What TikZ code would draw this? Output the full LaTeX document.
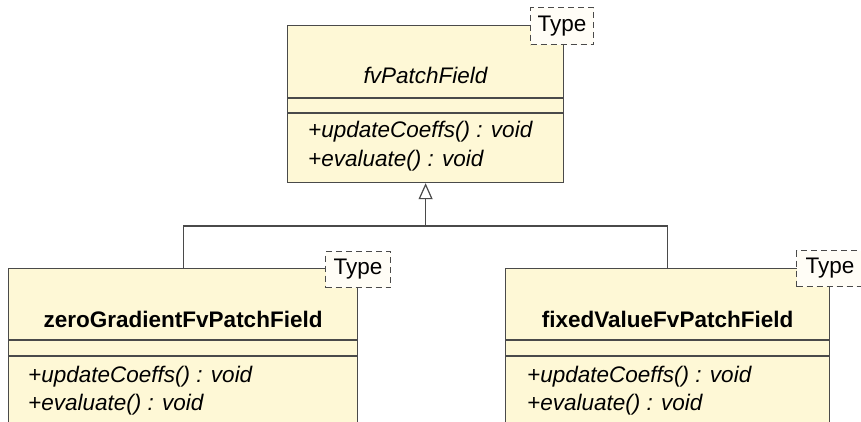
\documentclass[tikz,border=0pt]{standalone}
\usepackage{fontspec}
\setmainfont{Liberation Sans}
\usetikzlibrary{arrows.meta}
\definecolor{classfill}{HTML}{FEF8D6}
\definecolor{edgegray}{HTML}{4A4A4A}
\definecolor{tagfill}{HTML}{FFFDF6}
\tikzset{
  classbox/.style={draw=edgegray, fill=classfill, line width=1.2bp, rectangle, inner sep=0pt, anchor=north west},
  divider/.style={draw=edgegray, line width=1.2bp},
  tagbox/.style={draw=edgegray, fill=tagfill, dashed, dash pattern=on 6bp off 4bp, line width=1.1bp,
                 rectangle, inner sep=0pt, anchor=north west, font=\umlfont},
  member/.style={anchor=base west, inner sep=0pt, font=\umlfont\itshape},
  classname/.style={anchor=base, inner sep=0pt, font=\umlfont},
  link/.style={draw=edgegray, line width=1.2bp},
}
\newcommand{\umlfont}{\fontsize{22.5bp}{26bp}\selectfont}
\begin{document}
\begin{tikzpicture}[x=1bp, y=-1bp]
  \useasboundingbox (0,0) rectangle (861,421);
  \clip (0,0) rectangle (861,421);

  % generic base class
  \node[classbox, minimum width=276bp, minimum height=157bp] (base) at (287,25) {};
  \draw[divider] (base.west |- 0,98) -- (base.east |- 0,98);
  \draw[divider] (base.west |- 0,113) -- (base.east |- 0,113);
  \node[classname, font=\umlfont\itshape] (baseName) at (base.center |- 0,83) {fvPatchField};
  \node[member] (baseM1) at (308,137) {+updateCoeffs() : void};
  \node[member] (baseM2) at (308,166) {+evaluate() : void};
  \node[tagbox, minimum width=63bp, minimum height=37bp] (baseTag) at (530,7) {Type};

  % zero gradient subclass
  \node[classbox, minimum width=349bp, minimum height=180bp] (zeroG) at (8,268) {};
  \draw[divider] (zeroG.west |- 0,340) -- (zeroG.east |- 0,340);
  \draw[divider] (zeroG.west |- 0,356) -- (zeroG.east |- 0,356);
  \node[classname, font=\umlfont\bfseries] (zeroGName) at (zeroG.north |- 0,327) {zeroGradientFvPatchField};
  \node[member] (zeroGM1) at (28,382) {+updateCoeffs() : void};
  \node[member] (zeroGM2) at (28,410) {+evaluate() : void};
  \node[tagbox, minimum width=65bp, minimum height=36bp] (zeroGTag) at (325,251) {Type};

  % fixed value subclass
  \node[classbox, minimum width=324bp, minimum height=180bp] (fixedV) at (505,268) {};
  \draw[divider] (fixedV.west |- 0,340) -- (fixedV.east |- 0,340);
  \draw[divider] (fixedV.west |- 0,356) -- (fixedV.east |- 0,356);
  \node[classname, font=\umlfont\bfseries] (fixedVName) at (fixedV.north |- 0,327) {fixedValueFvPatchField};
  \node[member] (fixedVM1) at (527,382) {+updateCoeffs() : void};
  \node[member] (fixedVM2) at (527,410) {+evaluate() : void};
  \node[tagbox, minimum width=72bp, minimum height=36bp, text width=58bp, align=left] (fixedVTag) at (796,250) {\hspace*{2bp}Type};

  % generalization: both subclasses share one hollow-triangle connector
  \coordinate (bus) at (base.south |- 0,226);
  \draw[link] (zeroG.north) |- (bus) -| (fixedV.north);
  \draw[link, -{Triangle[open, length=16bp, width=14bp, line width=1.2bp]}] (bus) -- (base.south);
\end{tikzpicture}
\end{document}
